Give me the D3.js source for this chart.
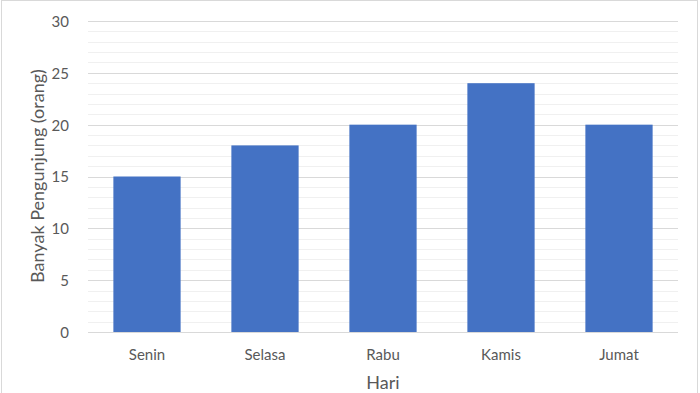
<!DOCTYPE html>
<meta charset="utf-8">
<html>
  <head>
    <style>
      body { margin: 0; background: #fff; }
      text { font-family: Lato, "Noto Sans", sans-serif; fill: #595959; }
      .tick text { font-size: 15px; }
      .title { font-size: 18px; }
    </style>
    <script src="https://d3js.org/d3.v7.min.js"></script>
  </head>
  <body>
    <script>
      var width = 700,
          height = 393;

      // data
      var days = ["Senin", "Selasa", "Rabu", "Kamis", "Jumat"];
      var visitors = [15, 18, 20, 24, 20];
      var yTicks = [0, 5, 10, 15, 20, 25, 30];
      var minorTicks = d3.range(0, 31, 1);

      var margin = {left: 88, right: 22, top: 21, bottom: 61};

      var svg = d3.select("body").append("svg")
          .attr("width", width)
          .attr("height", height);

      // chart border
      svg.append("rect")
          .attr("x", 1.5).attr("y", 0.5)
          .attr("width", width - 4).attr("height", height + 2)
          .attr("fill", "none")
          .attr("stroke", "#d9d9d9");

      var x = d3.scaleBand()
          .domain(days)
          .range([margin.left, width - margin.right])
          .paddingInner(0.43)
          .paddingOuter(0.215);

      var y = d3.scaleLinear()
          .domain([0, 30])
          .range([height - margin.bottom, margin.top]);

      // minor gridlines
      svg.append("g").selectAll("line")
          .data(minorTicks.filter(function(d) { return d % 5 != 0; }))
          .enter().append("line")
          .attr("x1", margin.left).attr("x2", width - margin.right)
          .attr("y1", function(d) { return Math.round(y(d)) + 0.5; })
          .attr("y2", function(d) { return Math.round(y(d)) + 0.5; })
          .attr("stroke", "#f0f0f0");

      // major gridlines
      svg.append("g").selectAll("line")
          .data(yTicks)
          .enter().append("line")
          .attr("x1", margin.left).attr("x2", width - margin.right)
          .attr("y1", function(d) { return Math.round(y(d)) + 0.5; })
          .attr("y2", function(d) { return Math.round(y(d)) + 0.5; })
          .attr("stroke", "#d9d9d9");

      svg.append("g").selectAll("rect")
          .data(visitors)
          .enter().append("rect")
          .attr("x", function(d, i) { return x(days[i]); })
          .attr("y", function(d) { return y(d); })
          .attr("width", x.bandwidth())
          .attr("height", function(d) { return y(0) - y(d); })
          .attr("fill", "#4472c4");

      var yAxis = svg.append("g")
          .attr("transform", "translate(" + (margin.left - 16) + ",0)")
          .call(d3.axisLeft(y).tickValues(yTicks).tickSize(0));
      yAxis.select(".domain").remove();
      yAxis.selectAll("text").attr("dy", "0.36em");

      var xAxis = svg.append("g")
          .attr("transform", "translate(0," + y(0) + ")")
          .call(d3.axisBottom(x).tickSize(0).tickPadding(17));
      xAxis.select(".domain").remove();

      svg.append("text")
          .attr("class", "title")
          .attr("x", (margin.left + width - margin.right) / 2)
          .attr("y", 389)
          .attr("text-anchor", "middle")
          .text("Hari");

      svg.append("text")
          .attr("class", "title")
          .attr("transform", "translate(44,176)rotate(-90)")
          .attr("text-anchor", "middle")
          .text("Banyak Pengunjung (orang)");
    </script>
  </body>
</html>
